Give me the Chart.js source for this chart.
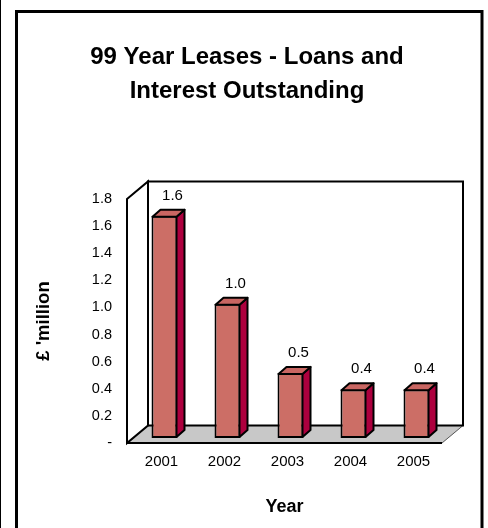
<!DOCTYPE html>
<html>
<head>
<meta charset="utf-8">
<script src="https://cdn.jsdelivr.net/npm/chart.js@4"></script>
<style>
html,body{margin:0;padding:0;background:#fff;}
#wrap{width:488px;height:528px;}
</style>
</head>
<body>
<div id="wrap"><canvas id="c" width="488" height="528"></canvas></div>
<script>
// ---- data ----
const categories = ['2001', '2002', '2003', '2004', '2005'];
const values = [1.64, 0.99, 0.48, 0.36, 0.36];
const yTickValues = [0, 0.2, 0.4, 0.6, 0.8, 1.0, 1.2, 1.4, 1.6, 1.8];
const titleLines = ['99 Year Leases - Loans and', 'Interest Outstanding'];
const yAxisTitle = "£ 'million";
const xAxisTitle = 'Year';

// ---- styling ----
const FONT = '"Liberation Sans", Arial, Helvetica, sans-serif';
const WALL_DEPTH = { dx: 21, dy: -17.5 };
const BAR_SHIFT = { dx: 6, dy: -5 };
const BAR_DEPTH = { dx: 8, dy: -7 };
const COL_FRONT = '#CC6E66';
const COL_SIDE = '#AD003E';
const COL_TOP = '#C96662';
const COL_FLOOR = '#C8C8C8';

function poly(ctx, pts) {
  ctx.beginPath();
  ctx.moveTo(pts[0][0], pts[0][1]);
  for (let i = 1; i < pts.length; i++) ctx.lineTo(pts[i][0], pts[i][1]);
  ctx.closePath();
}

const frame3d = {
  id: 'frame3d',
  beforeDraw(chart) {
    const ctx = chart.ctx;
    ctx.save();
    ctx.fillStyle = '#fff';
    ctx.fillRect(0, 0, chart.width, chart.height);
    ctx.strokeStyle = '#000';
    ctx.lineWidth = 1;
    ctx.beginPath(); ctx.moveTo(0.5, 0); ctx.lineTo(0.5, chart.height); ctx.stroke();
    ctx.lineWidth = 3;
    ctx.beginPath();
    ctx.moveTo(16.5, chart.height + 5);
    ctx.lineTo(16.5, 11.5);
    ctx.lineTo(482, 11.5);
    ctx.lineTo(482, chart.height + 5);
    ctx.stroke();
    ctx.restore();
  },
  beforeDatasetsDraw(chart) {
    const ctx = chart.ctx;
    const { left: L, right: R, top: T, bottom: B } = chart.chartArea;
    const dx = WALL_DEPTH.dx, dy = WALL_DEPTH.dy;
    ctx.save();
    ctx.lineJoin = 'miter';
    // back wall
    ctx.fillStyle = '#fff';
    ctx.fillRect(L + dx, T + dy, R - L, B - T);
    // floor
    poly(ctx, [[L, B], [R, B], [R + dx, B + dy], [L + dx, B + dy]]);
    ctx.fillStyle = COL_FLOOR;
    ctx.fill();
    ctx.strokeStyle = '#555';
    ctx.lineWidth = 1;
    ctx.beginPath(); ctx.moveTo(R, B); ctx.lineTo(R + dx, B + dy); ctx.stroke();
    // back wall outline
    ctx.strokeStyle = '#000';
    ctx.lineWidth = 2;
    ctx.beginPath();
    ctx.moveTo(L + dx, B + dy);
    ctx.lineTo(L + dx, T + dy);
    ctx.lineTo(R + dx, T + dy);
    ctx.lineTo(R + dx, B + dy);
    ctx.lineTo(L + dx, B + dy);
    ctx.stroke();
    // left wall
    poly(ctx, [[L, T], [L + dx, T + dy], [L + dx, B + dy], [L, B]]);
    ctx.fillStyle = '#fff';
    ctx.fill();
    ctx.stroke();
    // floor front edge
    ctx.beginPath(); ctx.moveTo(L, B); ctx.lineTo(R, B); ctx.stroke();
    ctx.restore();
    // shift bars to their depth position
    ctx.save();
    ctx.translate(BAR_SHIFT.dx, BAR_SHIFT.dy);
  },
  afterDatasetsDraw(chart) {
    const ctx = chart.ctx;
    ctx.restore();
    const meta = chart.getDatasetMeta(0);
    const ds = chart.data.datasets[0];
    ctx.save();
    ctx.lineWidth = 2;
    ctx.strokeStyle = '#000';
    ctx.lineJoin = 'round';
    meta.data.forEach((el, i) => {
      const p = el.getProps(['x', 'y', 'base', 'width'], true);
      const xl = p.x - p.width / 2 + BAR_SHIFT.dx + 1;
      const xr = p.x + p.width / 2 + BAR_SHIFT.dx - 1;
      const yt = Math.min(p.y, p.base) + BAR_SHIFT.dy + 1;
      const yb = Math.max(p.y, p.base) + BAR_SHIFT.dy - 1;
      const bx = BAR_DEPTH.dx, by = BAR_DEPTH.dy;
      // side face
      poly(ctx, [[xr, yt], [xr + bx, yt + by], [xr + bx, yb + by], [xr, yb]]);
      ctx.fillStyle = COL_SIDE; ctx.fill(); ctx.stroke();
      // top face
      poly(ctx, [[xl, yt], [xl + bx, yt + by], [xr + bx, yt + by], [xr, yt]]);
      ctx.fillStyle = COL_TOP; ctx.fill(); ctx.stroke();
      // value label
      ctx.fillStyle = '#000';
      ctx.font = '15px ' + FONT;
      ctx.textAlign = 'center';
      ctx.textBaseline = 'middle';
      ctx.fillText(ds.data[i].toFixed(1), p.x + BAR_SHIFT.dx + 8, yt - 21);
    });
    ctx.restore();
  }
};

new Chart(document.getElementById('c'), {
  type: 'bar',
  data: {
    labels: categories,
    datasets: [{
      data: values,
      backgroundColor: COL_FRONT,
      borderColor: '#000',
      borderWidth: 2,
      borderSkipped: false,
      barPercentage: 26 / 63,
      categoryPercentage: 1
    }]
  },
  options: {
    responsive: false,
    animation: false,
    events: [],
    layout: { padding: { top: 0, left: 6, right: 0, bottom: 0 } },
    plugins: {
      legend: { display: false },
      tooltip: { enabled: false },
      title: {
        display: true,
        text: titleLines,
        color: '#000',
        font: { family: FONT, size: 24, weight: 'bold', lineHeight: 1.4 },
        padding: { top: 41, bottom: 90.8 }
      }
    },
    scales: {
      x: {
        grid: { display: false, drawTicks: false },
        border: { display: false },
        ticks: { color: '#000', font: { family: FONT, size: 15 }, padding: 10, labelOffset: 3, maxRotation: 0 },
        title: { display: true, text: xAxisTitle, color: '#000', font: { family: FONT, size: 18, weight: 'bold' }, padding: { top: 0, bottom: 10 } },
        afterFit: s => { s.height = 85; }
      },
      y: {
        min: 0,
        max: 1.8,
        grid: { display: false, drawTicks: false },
        border: { display: false },
        afterBuildTicks: s => { s.ticks = yTickValues.map(v => ({ value: v })); },
        ticks: {
          color: '#000',
          font: { family: FONT, size: 14.5 },
          padding: 15,
          callback: v => (v === 0 ? '-' : Number(v).toFixed(1))
        },
        title: { display: true, text: yAxisTitle, color: '#000', font: { family: FONT, size: 18.5, weight: 'bold' }, padding: { top: 27, bottom: 0 } },
        afterFit: s => { s.width = 121; }
      },
      y2: {
        position: 'right',
        display: true,
        grid: { display: false, drawTicks: false },
        border: { display: false },
        ticks: { display: false },
        afterFit: s => { s.width = 46; }
      }
    }
  },
  plugins: [frame3d]
});
</script>
</body>
</html>
